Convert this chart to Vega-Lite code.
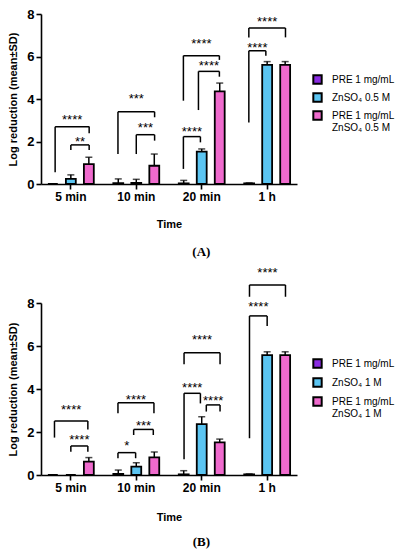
{
  "$schema": "https://vega.github.io/schema/vega-lite/v6.json",
  "background": "white",
  "padding": {"top": 8, "left": 7, "right": 0, "bottom": 0},
  "spacing": 8,
  "config": {
    "font": "Liberation Sans",
    "view": {"stroke": null},
    "axis": {"domain": true, "ticks": true, "domainColor": "black", "domainWidth": 1.6, "tickColor": "black", "tickWidth": 1.6, "tickSize": 5, "labelColor": "black", "titleColor": "black", "labelFont": "Liberation Sans", "titleFont": "Liberation Sans", "labelFontWeight": "bold", "titleFontWeight": "bold", "grid": false},
    "title": {"font": "Liberation Serif", "fontSize": 13, "fontWeight": "bold", "color": "black"}
  },
  "datasets": {
    "barsA": [
      {"time": "5 min", "group": "PRE 1 mg/mL", "mean": 0, "upper": 0},
      {"time": "5 min", "group": "ZnSO₄ 0.5 M", "mean": 0.24, "upper": 0.43},
      {"time": "5 min", "group": "PRE 1 mg/mL + ZnSO₄ 0.5 M", "mean": 0.94, "upper": 1.26},
      {"time": "10 min", "group": "PRE 1 mg/mL", "mean": 0.04, "upper": 0.24},
      {"time": "10 min", "group": "ZnSO₄ 0.5 M", "mean": 0.05, "upper": 0.22},
      {"time": "10 min", "group": "PRE 1 mg/mL + ZnSO₄ 0.5 M", "mean": 0.86, "upper": 1.41},
      {"time": "20 min", "group": "PRE 1 mg/mL", "mean": 0.03, "upper": 0.17},
      {"time": "20 min", "group": "ZnSO₄ 0.5 M", "mean": 1.52, "upper": 1.65},
      {"time": "20 min", "group": "PRE 1 mg/mL + ZnSO₄ 0.5 M", "mean": 4.36, "upper": 4.75},
      {"time": "1 h", "group": "PRE 1 mg/mL", "mean": 0.03, "upper": 0.05},
      {"time": "1 h", "group": "ZnSO₄ 0.5 M", "mean": 5.61, "upper": 5.76},
      {"time": "1 h", "group": "PRE 1 mg/mL + ZnSO₄ 0.5 M", "mean": 5.61, "upper": 5.76}
    ],
    "barsB": [
      {"time": "5 min", "group": "PRE 1 mg/mL", "mean": 0, "upper": 0},
      {"time": "5 min", "group": "ZnSO₄ 1 M", "mean": 0, "upper": 0},
      {"time": "5 min", "group": "PRE 1 mg/mL + ZnSO₄ 1 M", "mean": 0.62, "upper": 0.81},
      {"time": "10 min", "group": "PRE 1 mg/mL", "mean": 0.05, "upper": 0.23},
      {"time": "10 min", "group": "ZnSO₄ 1 M", "mean": 0.39, "upper": 0.57},
      {"time": "10 min", "group": "PRE 1 mg/mL + ZnSO₄ 1 M", "mean": 0.82, "upper": 1.07},
      {"time": "20 min", "group": "PRE 1 mg/mL", "mean": 0.03, "upper": 0.2},
      {"time": "20 min", "group": "ZnSO₄ 1 M", "mean": 2.37, "upper": 2.71},
      {"time": "20 min", "group": "PRE 1 mg/mL + ZnSO₄ 1 M", "mean": 1.52, "upper": 1.67},
      {"time": "1 h", "group": "PRE 1 mg/mL", "mean": 0.03, "upper": 0.05},
      {"time": "1 h", "group": "ZnSO₄ 1 M", "mean": 5.58, "upper": 5.73},
      {"time": "1 h", "group": "PRE 1 mg/mL + ZnSO₄ 1 M", "mean": 5.58, "upper": 5.73}
    ],
    "bracketsA": [
      {"x1": 0.76, "x2": 1.28, "xm": 1.02, "y": 2.70, "yl": 0.55, "yr": 2.39, "sig": "****", "ly": 3.17},
      {"x1": 1.0, "x2": 1.28, "xm": 1.14, "y": 1.84, "yl": 1.6, "yr": 1.6, "sig": "**", "ly": 2.12},
      {"x1": 1.72, "x2": 2.28, "xm": 2.0, "y": 3.40, "yl": 1.41, "yr": 3.14, "sig": "***", "ly": 4.13},
      {"x1": 2.0, "x2": 2.28, "xm": 2.14, "y": 2.32, "yl": 1.41, "yr": 2.04, "sig": "***", "ly": 2.78},
      {"x1": 2.72, "x2": 3.27, "xm": 2.995, "y": 6.04, "yl": 3.92, "yr": 5.84, "sig": "****", "ly": 6.71},
      {"x1": 2.95, "x2": 3.27, "xm": 3.11, "y": 5.30, "yl": 3.48, "yr": 5.05, "sig": "****", "ly": 5.69},
      {"x1": 2.72, "x2": 2.98, "xm": 2.85, "y": 2.23, "yl": 0.71, "yr": 1.96, "sig": "****", "ly": 2.59},
      {"x1": 3.72, "x2": 4.28, "xm": 4.0, "y": 7.34, "yl": 6.9, "yr": 6.9, "sig": "****", "ly": 7.76},
      {"x1": 3.72, "x2": 3.98, "xm": 3.85, "y": 6.27, "yl": 2.9, "yr": 6.04, "sig": "****", "ly": 6.54}
    ],
    "bracketsB": [
      {"x1": 0.75, "x2": 1.26, "xm": 1.005, "y": 2.51, "yl": 1.74, "yr": 2.12, "sig": "****", "ly": 3.15},
      {"x1": 1.0, "x2": 1.26, "xm": 1.13, "y": 1.35, "yl": 1.08, "yr": 1.08, "sig": "****", "ly": 1.78},
      {"x1": 1.72, "x2": 2.27, "xm": 1.995, "y": 3.36, "yl": 2.87, "yr": 2.87, "sig": "****", "ly": 3.64},
      {"x1": 1.96, "x2": 2.26, "xm": 2.11, "y": 2.12, "yl": 1.86, "yr": 1.86, "sig": "***", "ly": 2.43},
      {"x1": 1.72, "x2": 1.99, "xm": 1.855, "y": 1.04, "yl": 0.78, "yr": 0.78, "sig": "*", "ly": 1.5},
      {"x1": 2.73, "x2": 3.28, "xm": 3.005, "y": 5.69, "yl": 5.15, "yr": 5.15, "sig": "****", "ly": 6.4},
      {"x1": 2.73, "x2": 2.98, "xm": 2.855, "y": 3.8, "yl": 0.73, "yr": 3.33, "sig": "****", "ly": 4.19},
      {"x1": 3.07, "x2": 3.28, "xm": 3.175, "y": 3.26, "yl": 2.95, "yr": 2.95, "sig": "****", "ly": 3.57},
      {"x1": 3.73, "x2": 4.28, "xm": 4.005, "y": 8.84, "yl": 8.29, "yr": 8.29, "sig": "****", "ly": 9.53},
      {"x1": 3.73, "x2": 4.0, "xm": 3.865, "y": 7.4, "yl": 1.71, "yr": 6.93, "sig": "****", "ly": 7.95}
    ]
  },
  "vconcat": [
    {
      "width": 256,
      "height": 170,
      "title": {"text": "(A)", "orient": "bottom", "frame": "bounds", "anchor": "middle", "offset": 17},
      "resolve": {"scale": {"x": "independent"}, "axis": {"x": "independent"}},
      "layer": [
        {
          "data": {"name": "barsA"},
          "encoding": {
            "x": {"field": "time", "type": "nominal", "sort": ["5 min", "10 min", "20 min", "1 h"], "scale": {"paddingInner": 0.18, "paddingOuter": 0.046}, "axis": {"title": "Time", "domain": true, "ticks": true, "labelAngle": 0, "labelFontSize": 12, "titleFontSize": 11, "labelPadding": 2, "titlePadding": 16}},
            "xOffset": {"field": "group", "type": "nominal", "sort": ["PRE 1 mg/mL", "ZnSO₄ 0.5 M", "PRE 1 mg/mL + ZnSO₄ 0.5 M"], "scale": {"paddingInner": 0.45, "paddingOuter": 0.215}}
          },
          "layer": [
            {
              "mark": {"type": "rule", "color": "black", "strokeWidth": 1.5},
              "encoding": {"y": {"field": "mean", "type": "quantitative"}, "y2": {"field": "upper"}}
            },
            {
              "mark": {"type": "tick", "color": "black", "thickness": 1.5, "size": 7},
              "encoding": {"y": {"field": "upper", "type": "quantitative"}}
            },
            {
              "mark": {"type": "bar", "stroke": "black", "strokeWidth": 1.8},
              "encoding": {
                "y": {"field": "mean", "type": "quantitative", "scale": {"domain": [0, 8], "nice": false}, "axis": {"title": "Log reduction (mean±SD)", "domain": true, "ticks": true, "values": [0, 2, 4, 6, 8], "labelFontSize": 13, "titleFontSize": 11, "labelPadding": 2, "titlePadding": 8, "labelFlush": false}},
                "color": {"field": "group", "type": "nominal", "sort": ["PRE 1 mg/mL", "ZnSO₄ 0.5 M", "PRE 1 mg/mL + ZnSO₄ 0.5 M"], "scale": {"domain": ["PRE 1 mg/mL", "ZnSO₄ 0.5 M", "PRE 1 mg/mL + ZnSO₄ 0.5 M"], "range": ["#8A2BE2", "#5BC5F2", "#EF6ACD"]}, "legend": {"title": null, "orient": "none", "legendX": 271, "legendY": 60, "padding": 0, "symbolType": "square", "symbolSize": 70, "symbolStrokeColor": "black", "symbolStrokeWidth": 2, "symbolOpacity": 1, "labelFontSize": 10, "labelFont": "Liberation Sans", "labelColor": "black", "labelOffset": 9, "rowPadding": 1, "labelExpr": "split(datum.label, ' + ')"}}
              }
            }
          ]
        },
        {
          "data": {"name": "bracketsA"},
          "layer": [
            {
              "mark": {"type": "rule", "color": "black", "strokeWidth": 1.5},
              "encoding": {"x": {"field": "x1", "type": "quantitative", "scale": {"domain": [0.544, 4.456], "nice": false, "zero": false}, "axis": null}, "x2": {"field": "x2"}, "y": {"field": "y", "type": "quantitative"}}
            },
            {
              "mark": {"type": "rule", "color": "black", "strokeWidth": 1.5},
              "encoding": {"x": {"field": "x1", "type": "quantitative", "axis": null}, "y": {"field": "yl", "type": "quantitative"}, "y2": {"field": "y"}}
            },
            {
              "mark": {"type": "rule", "color": "black", "strokeWidth": 1.5},
              "encoding": {"x": {"field": "x2", "type": "quantitative", "axis": null}, "y": {"field": "yr", "type": "quantitative"}, "y2": {"field": "y"}}
            },
            {
              "mark": {"type": "text", "color": "black", "fontSize": 13, "baseline": "alphabetic", "dy": 7},
              "encoding": {"x": {"field": "xm", "type": "quantitative", "axis": null}, "y": {"field": "ly", "type": "quantitative"}, "text": {"field": "sig"}}
            }
          ]
        }
      ]
    },
    {
      "width": 256,
      "height": 172,
      "title": {"text": "(B)", "orient": "bottom", "frame": "bounds", "anchor": "middle", "offset": 14},
      "resolve": {"scale": {"x": "independent"}, "axis": {"x": "independent"}},
      "layer": [
        {
          "data": {"name": "barsB"},
          "encoding": {
            "x": {"field": "time", "type": "nominal", "sort": ["5 min", "10 min", "20 min", "1 h"], "scale": {"paddingInner": 0.18, "paddingOuter": 0.046}, "axis": {"title": "Time", "domain": true, "ticks": true, "labelAngle": 0, "labelFontSize": 12, "titleFontSize": 11, "labelPadding": 2, "titlePadding": 18}},
            "xOffset": {"field": "group", "type": "nominal", "sort": ["PRE 1 mg/mL", "ZnSO₄ 1 M", "PRE 1 mg/mL + ZnSO₄ 1 M"], "scale": {"paddingInner": 0.45, "paddingOuter": 0.215}}
          },
          "layer": [
            {
              "mark": {"type": "rule", "color": "black", "strokeWidth": 1.5},
              "encoding": {"y": {"field": "mean", "type": "quantitative"}, "y2": {"field": "upper"}}
            },
            {
              "mark": {"type": "tick", "color": "black", "thickness": 1.5, "size": 7},
              "encoding": {"y": {"field": "upper", "type": "quantitative"}}
            },
            {
              "mark": {"type": "bar", "stroke": "black", "strokeWidth": 1.8},
              "encoding": {
                "y": {"field": "mean", "type": "quantitative", "scale": {"domain": [0, 8], "nice": false}, "axis": {"title": "Log reduction (mean±SD)", "domain": true, "ticks": true, "values": [0, 2, 4, 6, 8], "labelFontSize": 13, "titleFontSize": 11, "labelPadding": 2, "titlePadding": 8, "labelFlush": false}},
                "color": {"field": "group", "type": "nominal", "sort": ["PRE 1 mg/mL", "ZnSO₄ 1 M", "PRE 1 mg/mL + ZnSO₄ 1 M"], "scale": {"domain": ["PRE 1 mg/mL", "ZnSO₄ 1 M", "PRE 1 mg/mL + ZnSO₄ 1 M"], "range": ["#8A2BE2", "#5BC5F2", "#EF6ACD"]}, "legend": {"title": null, "orient": "none", "legendX": 271, "legendY": 55, "padding": 0, "symbolType": "square", "symbolSize": 70, "symbolStrokeColor": "black", "symbolStrokeWidth": 2, "symbolOpacity": 1, "labelFontSize": 10, "labelFont": "Liberation Sans", "labelColor": "black", "labelOffset": 9, "rowPadding": 2, "labelExpr": "split(datum.label, ' + ')"}}
              }
            }
          ]
        },
        {
          "data": {"name": "bracketsB"},
          "layer": [
            {
              "mark": {"type": "rule", "color": "black", "strokeWidth": 1.5},
              "encoding": {"x": {"field": "x1", "type": "quantitative", "scale": {"domain": [0.544, 4.456], "nice": false, "zero": false}, "axis": null}, "x2": {"field": "x2"}, "y": {"field": "y", "type": "quantitative"}}
            },
            {
              "mark": {"type": "rule", "color": "black", "strokeWidth": 1.5},
              "encoding": {"x": {"field": "x1", "type": "quantitative", "axis": null}, "y": {"field": "yl", "type": "quantitative"}, "y2": {"field": "y"}}
            },
            {
              "mark": {"type": "rule", "color": "black", "strokeWidth": 1.5},
              "encoding": {"x": {"field": "x2", "type": "quantitative", "axis": null}, "y": {"field": "yr", "type": "quantitative"}, "y2": {"field": "y"}}
            },
            {
              "mark": {"type": "text", "color": "black", "fontSize": 13, "baseline": "alphabetic", "dy": 7},
              "encoding": {"x": {"field": "xm", "type": "quantitative", "axis": null}, "y": {"field": "ly", "type": "quantitative"}, "text": {"field": "sig"}}
            }
          ]
        }
      ]
    }
  ],
  "resolve": {"scale": {"color": "independent", "x": "independent", "y": "independent", "xOffset": "independent"}, "legend": {"color": "independent"}}
}
